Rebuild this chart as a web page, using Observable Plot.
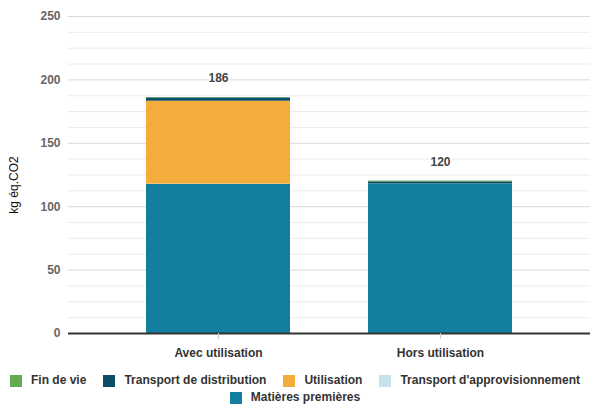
<!DOCTYPE html>
<html>
<head>
<meta charset="utf-8">
<script src="https://cdn.jsdelivr.net/npm/d3@7"></script>
<script src="https://cdn.jsdelivr.net/npm/@observablehq/plot@0.6"></script>
<style>
  body { margin: 0; background: #fff; font-family: "Liberation Sans", Arial, sans-serif; }
  #chart svg { display: block; }
  #legend { display: flex; flex-wrap: wrap; justify-content: center; column-gap: 17px; row-gap: 2px; width: 590px; margin-top: 5px;
    font-size: 12px; font-weight: bold; color: #333; line-height: 15px; }
  .item { display: flex; align-items: center; }
  .sw { width: 12px; height: 12px; margin-right: 9px; display: inline-block; }
</style>
</head>
<body>
<div id="chart"></div>
<div id="legend"></div>
<script>
const categories = ["Avec utilisation", "Hors utilisation"];
const seriesNames = ["Matières premières", "Transport d'approvisionnement", "Utilisation", "Transport de distribution", "Fin de vie"];
const matieresPremieres = [117.6, 117.6];
const transportAppro = [0.2, 0.2];
const utilisation = [65.4, 0];
const transportDistribution = [2.6, 1.8];
const finDeVie = [0.2, 0.6];
const seriesColors = ["#127ea0", "#c5e3ec", "#f4ac3a", "#0b4f66", "#67a852"];
const legendOrder = ["Fin de vie", "Transport de distribution", "Utilisation", "Transport d'approvisionnement", "Matières premières"];
const yTicks = [0, 50, 100, 150, 200, 250];
const yMinor = [12.5, 25, 37.5, 62.5, 75, 87.5, 112.5, 125, 137.5, 162.5, 175, 187.5, 212.5, 225, 237.5];

const seriesValues = [matieresPremieres, transportAppro, utilisation, transportDistribution, finDeVie];
const data = [];
categories.forEach((c, i) => {
  seriesNames.forEach((s, j) => data.push({category: c, series: s, value: seriesValues[j][i]}));
});
const totals = categories.map((c, i) => ({category: c, total: seriesValues.reduce((a, v) => a + v[i], 0)}));

const chart = Plot.plot({
  width: 590,
  height: 368,
  marginLeft: 68,
  marginRight: 0,
  marginTop: 16,
  marginBottom: 35,
  style: {fontFamily: "'Liberation Sans', Arial, sans-serif", fontSize: "12px", background: "#fff"},
  x: {domain: categories, paddingInner: 0.35, paddingOuter: 0.35, label: null},
  y: {domain: [0, 250], label: null},
  color: {domain: seriesNames, range: seriesColors},
  marks: [
    Plot.ruleY(yMinor, {stroke: "#ececec", strokeWidth: 1}),
    Plot.ruleY(yTicks, {stroke: "#d9d9d9", strokeWidth: 1}),
    Plot.barY(data, {x: "category", y: "value", fill: "series", inset: 0}),
    Plot.ruleY([0], {stroke: "#333", strokeWidth: 2}),
    Plot.axisY({ticks: yTicks, tickSize: 0, tickPadding: 8, fontWeight: "bold", fill: "#666", fontSize: 12, label: null}),
    Plot.axisX({tickSize: 6, stroke: "#ccc", tickPadding: 9, fontWeight: "bold", fill: "#333", fontSize: 12, label: null}),
    Plot.text(["kg éq.CO2"], {frameAnchor: "left", textAnchor: "middle", dx: -54, dy: 10, rotate: -90, fill: "#111", fontSize: 12}),
    Plot.text(totals, {x: "category", y: "total", text: d => d.total.toFixed(0), dy: -19, fontWeight: "bold", fill: "#444", fontSize: 12, stroke: "#fff", strokeWidth: 3})
  ]
});
document.getElementById("chart").appendChild(chart);

const legend = document.getElementById("legend");
legendOrder.forEach(name => {
  const it = document.createElement("span");
  it.className = "item";
  const sw = document.createElement("span");
  sw.className = "sw";
  sw.style.background = seriesColors[seriesNames.indexOf(name)];
  it.appendChild(sw);
  it.appendChild(document.createTextNode(name));
  legend.appendChild(it);
});
</script>
</body>
</html>
